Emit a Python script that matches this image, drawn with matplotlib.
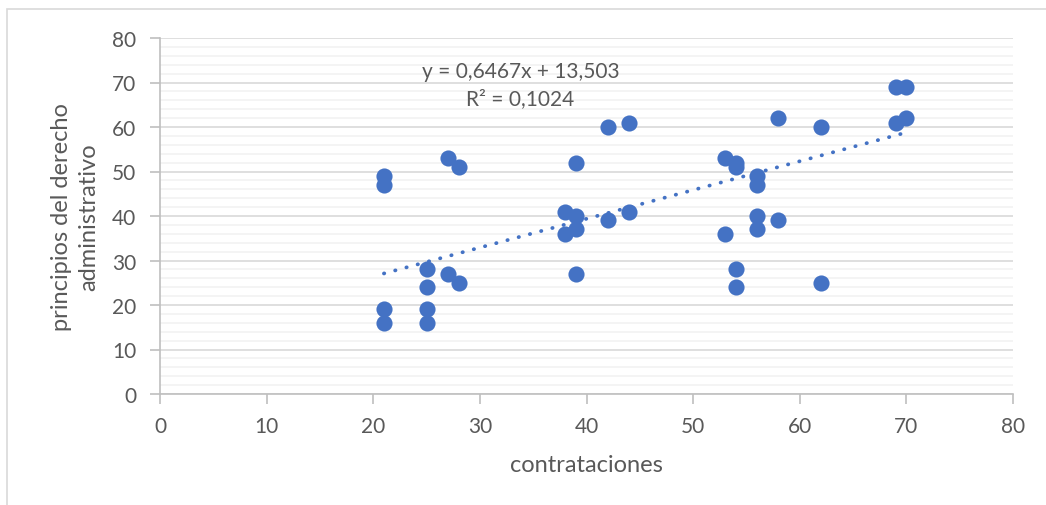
import numpy as np
import matplotlib
matplotlib.use("Agg")
import matplotlib.pyplot as plt
from matplotlib.patches import Rectangle

plt.rcParams['font.family'] = ['Lato', 'DejaVu Sans']

# datos
contrataciones = [21, 21, 21, 21, 25, 25, 25, 25, 27, 28, 27, 28,
                  38, 38, 39, 39, 39, 39, 42, 42, 44, 44,
                  53, 53, 54, 54, 54, 54, 56, 56, 56, 56,
                  58, 58, 62, 62, 69, 70, 69, 70]
principios = [49, 47, 19, 16, 28, 24, 19, 16, 53, 51, 27, 25,
              41, 36, 40, 37, 52, 27, 60, 39, 61, 41,
              53, 36, 52, 51, 28, 24, 49, 47, 40, 37,
              62, 39, 60, 25, 69, 69, 61, 62]
# coeficientes de la tendencia (del rotulo del grafico)
pendiente = 0.6467
intercepto = 13.503
r2 = 0.1024

gris = "#595959"
azul = "#4472C4"

fig = plt.figure(figsize=(10.46, 5.06), dpi=100)
ax = fig.add_axes([160/1046, 1 - 395/506, (1013-160)/1046, (395-39)/506])

# borde del grafico
fig.patches.append(Rectangle((7/1046, -0.1), 1.2, 1 - 10/506 + 0.1,
                             transform=fig.transFigure, fill=False,
                             edgecolor="#d9d9d9", linewidth=1.2))

ax.scatter(contrataciones, principios, s=135, color=azul, zorder=3, linewidths=0)

# linea de tendencia
xs = np.array([min(contrataciones), max(contrataciones)])
ax.plot(xs, pendiente * xs + intercepto, linestyle=(0, (0.1, 3.0)), color=azul,
        linewidth=2.7, dash_capstyle="round", zorder=2)

def coma(v, d):
    return f"{v:.{d}f}".replace(".", ",")

ax.text(33.8, 72.6, f"y = {coma(pendiente, 4)}x + {coma(intercepto, 3)}",
        ha="center", va="center", fontsize=15, color=gris)
ax.text(33.8, 66.4, f"R² = {coma(r2, 4)}", ha="center", va="center",
        fontsize=15, color=gris)

ax.set_xlim(0, 80)
ax.set_ylim(0, 80)
ax.set_xticks(range(0, 81, 10))
ax.set_yticks(range(0, 81, 10))
ax.set_yticks(range(0, 81, 2), minor=True)
ax.grid(which="major", axis="y", color="#d9d9d9", linewidth=1.2)
ax.grid(which="minor", axis="y", color="#f2f2f2", linewidth=1.2)
ax.set_axisbelow(True)
ax.tick_params(axis="y", which="minor", length=0)
ax.tick_params(which="major", colors="#bfbfbf", labelcolor=gris, labelsize=15,
               length=7, width=1.2)
ax.tick_params(axis="x", pad=9)
ax.tick_params(axis="y", pad=10)

for side in ["top", "right"]:
    ax.spines[side].set_visible(False)
for side in ["left", "bottom"]:
    ax.spines[side].set_color("#bfbfbf")
    ax.spines[side].set_linewidth(1.2)

ax.set_xlabel("contrataciones", fontsize=17, color=gris, labelpad=13)
ax.set_ylabel("principios del derecho\nadministrativo", fontsize=17, color=gris,
              labelpad=9, linespacing=1.4)

fig.savefig("out.png", dpi=100)
